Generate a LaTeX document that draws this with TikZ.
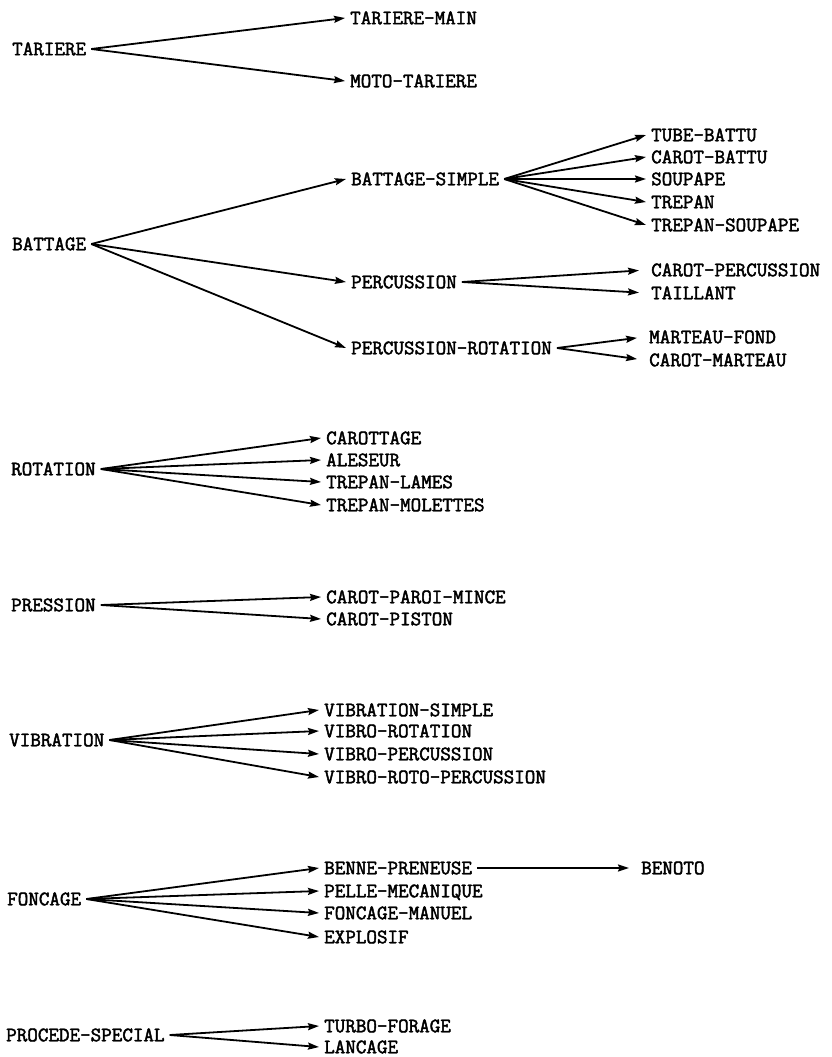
\documentclass[tikz,border=0pt]{standalone}
\usepackage{fontspec}
\setmonofont{Latin Modern Mono}[AutoFakeBold=2.2]
\usepackage{tikz}
\usetikzlibrary{arrows.meta}

\begin{document}
\begin{tikzpicture}[x=1pt,y=-1pt,
  every node/.style={inner ysep=0pt,inner xsep=5pt,anchor=west,text height=12.5pt,text depth=0pt,
    font=\fontsize{20.5}{24}\selectfont\ttfamily\bfseries},
  arr/.style={line width=1.8pt,-{Stealth[length=11pt,width=7pt,inset=1.5pt]}},
  gap/.style={arr,shorten >=7pt}]
\useasboundingbox (0,0) rectangle (832,1057);
\node (tariere) at (7,49) {TARIERE};
\node (tarmain) at (345,18) {TARIERE-MAIN};
\node (mototar) at (345,81) {MOTO-TARIERE};
\node (battage) at (7,244) {BATTAGE};
\node (battsimple) at (346,179) {BATTAGE-SIMPLE};
\node (percussion) at (346,282) {PERCUSSION};
\node (percrot) at (346,348) {PERCUSSION-ROTATION};
\node (tubebattu) at (646,135) {TUBE-BATTU};
\node (carotbattu) at (646,157) {CAROT-BATTU};
\node (soupape) at (646,179) {SOUPAPE};
\node (trepan) at (646,202) {TREPAN};
\node (trepsoup) at (646,225) {TREPAN-SOUPAPE};
\node (carotperc) at (646,270) {CAROT-PERCUSSION};
\node (taillant) at (646,293) {TAILLANT};
\node (martfond) at (644,337) {MARTEAU-FOND};
\node (carotmart) at (644,360) {CAROT-MARTEAU};
\node (rotation) at (6,469) {ROTATION};
\node (carottage) at (321,438) {CAROTTAGE};
\node (aleseur) at (321,460) {ALESEUR};
\node (treplames) at (321,482) {TREPAN-LAMES};
\node (trepmol) at (321,505) {TREPAN-MOLETTES};
\node (pression) at (6,605) {PRESSION};
\node (carotparoi) at (321,597) {CAROT-PAROI-MINCE};
\node (carotpiston) at (321,619) {CAROT-PISTON};
\node (vibration) at (4,740) {VIBRATION};
\node (vibsimple) at (319,710) {VIBRATION-SIMPLE};
\node (viborot) at (319,731) {VIBRO-ROTATION};
\node (vibperc) at (319,754) {VIBRO-PERCUSSION};
\node (vibrotoperc) at (319,777) {VIBRO-ROTO-PERCUSSION};
\node (foncage) at (2,899) {FONCAGE};
\node (benne) at (319,868) {BENNE-PRENEUSE};
\node (pelle) at (319,891) {PELLE-MECANIQUE};
\node (foncman) at (319,913) {FONCAGE-MANUEL};
\node (explosif) at (319,937) {EXPLOSIF};
\node (benoto) at (636,868) {BENOTO};
\node (procede) at (1,1035) {PROCEDE-SPECIAL};
\node (turbo) at (319,1026) {TURBO-FORAGE};
\node (lancage) at (319,1047) {LANCAGE};
\foreach \c in {tarmain,mototar} \draw[arr] (tariere.east) -- (\c.west);
\foreach \c in {battsimple,percussion,percrot} \draw[arr] (battage.east) -- (\c.west);
\foreach \c in {tubebattu,carotbattu,soupape,trepan,trepsoup} \draw[arr] (battsimple.east) -- (\c.west);
\foreach \c in {carotperc,taillant} \draw[gap] (percussion.east) -- (\c.west);
\foreach \c in {martfond,carotmart} \draw[gap] (percrot.east) -- (\c.west);
\foreach \c in {carottage,aleseur,treplames,trepmol} \draw[arr] (rotation.east) -- (\c.west);
\foreach \c in {carotparoi,carotpiston} \draw[arr] (pression.east) -- (\c.west);
\foreach \c in {vibsimple,viborot,vibperc,vibrotoperc} \draw[arr] (vibration.east) -- (\c.west);
\foreach \c in {benne,pelle,foncman,explosif} \draw[arr] (foncage.east) -- (\c.west);
\draw[gap] (benne.east) -- (benoto.west);
\foreach \c in {turbo,lancage} \draw[arr] (procede.east) -- (\c.west);
\end{tikzpicture}
\end{document}
